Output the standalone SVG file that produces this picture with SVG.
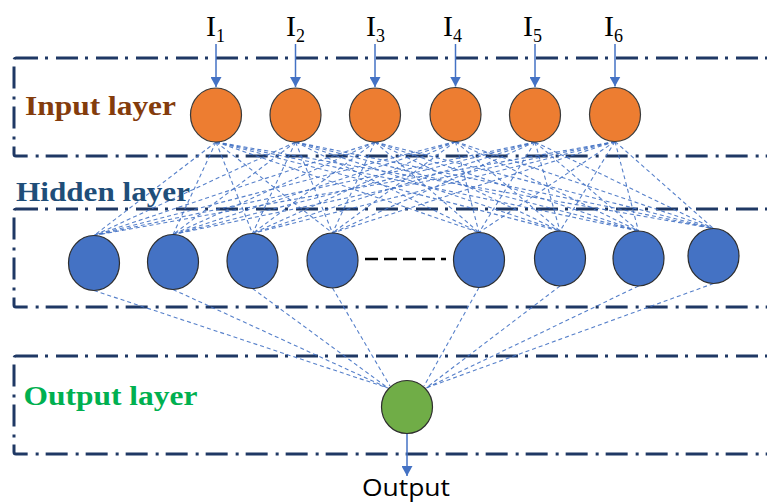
<svg xmlns="http://www.w3.org/2000/svg" width="767" height="502" viewBox="0 0 767 502">
<style>
.box{fill:none;stroke:#1F3864;stroke-width:3;stroke-dasharray:22 7 3 8}
.c{stroke:#4472C4;stroke-width:1.1;stroke-dasharray:4 3;fill:none;opacity:0.9}
.a{stroke:#4472C4;stroke-width:1.5;fill:none}
.in{fill:#ED7D31;stroke:#3A3A3A;stroke-width:1.2}
.hd{fill:#4472C4;stroke:#2E2E2E;stroke-width:1.2}
.out{fill:#70AD47;stroke:#2E2E2E;stroke-width:1.2}
.lbl{font-family:"Liberation Serif","Times New Roman",serif;font-weight:bold;font-size:28px}
.I{font-family:"Liberation Serif","Times New Roman",serif;font-size:30px;fill:#000}
.sub{font-size:18px}
</style>
<defs>
<marker id="ah" markerUnits="userSpaceOnUse" markerWidth="12" markerHeight="11" refX="10" refY="5.5" orient="auto">
<path d="M0,0 L10,5.5 L0,11 Z" fill="#4472C4"/>
</marker>
</defs>
<rect width="767" height="502" fill="#fff"/>
<g id="layer-boxes">
<rect class="box" x="14" y="58" width="780" height="98" rx="2"/>
<rect class="box" x="14" y="209" width="780" height="98" rx="2"/>
<rect class="box" x="14" y="356" width="780" height="98" rx="2"/>
</g>
<g id="connectors">
<line class="c" x1="216" y1="142" x2="94" y2="235.5"/><line class="c" x1="216" y1="142" x2="173" y2="234.5"/><line class="c" x1="216" y1="142" x2="252.5" y2="233.5"/><line class="c" x1="216" y1="142" x2="332.5" y2="233"/><line class="c" x1="216" y1="142" x2="479" y2="232.5"/><line class="c" x1="216" y1="142" x2="560" y2="231"/><line class="c" x1="216" y1="142" x2="638.5" y2="231"/><line class="c" x1="216" y1="142" x2="713.5" y2="228.5"/>
<line class="c" x1="295.5" y1="142" x2="94" y2="235.5"/><line class="c" x1="295.5" y1="142" x2="173" y2="234.5"/><line class="c" x1="295.5" y1="142" x2="252.5" y2="233.5"/><line class="c" x1="295.5" y1="142" x2="332.5" y2="233"/><line class="c" x1="295.5" y1="142" x2="479" y2="232.5"/><line class="c" x1="295.5" y1="142" x2="560" y2="231"/><line class="c" x1="295.5" y1="142" x2="638.5" y2="231"/><line class="c" x1="295.5" y1="142" x2="713.5" y2="228.5"/>
<line class="c" x1="375" y1="142" x2="94" y2="235.5"/><line class="c" x1="375" y1="142" x2="173" y2="234.5"/><line class="c" x1="375" y1="142" x2="252.5" y2="233.5"/><line class="c" x1="375" y1="142" x2="332.5" y2="233"/><line class="c" x1="375" y1="142" x2="479" y2="232.5"/><line class="c" x1="375" y1="142" x2="560" y2="231"/><line class="c" x1="375" y1="142" x2="638.5" y2="231"/><line class="c" x1="375" y1="142" x2="713.5" y2="228.5"/>
<line class="c" x1="455.5" y1="141.5" x2="94" y2="235.5"/><line class="c" x1="455.5" y1="141.5" x2="173" y2="234.5"/><line class="c" x1="455.5" y1="141.5" x2="252.5" y2="233.5"/><line class="c" x1="455.5" y1="141.5" x2="332.5" y2="233"/><line class="c" x1="455.5" y1="141.5" x2="479" y2="232.5"/><line class="c" x1="455.5" y1="141.5" x2="560" y2="231"/><line class="c" x1="455.5" y1="141.5" x2="638.5" y2="231"/><line class="c" x1="455.5" y1="141.5" x2="713.5" y2="228.5"/>
<line class="c" x1="535" y1="142" x2="94" y2="235.5"/><line class="c" x1="535" y1="142" x2="173" y2="234.5"/><line class="c" x1="535" y1="142" x2="252.5" y2="233.5"/><line class="c" x1="535" y1="142" x2="332.5" y2="233"/><line class="c" x1="535" y1="142" x2="479" y2="232.5"/><line class="c" x1="535" y1="142" x2="560" y2="231"/><line class="c" x1="535" y1="142" x2="638.5" y2="231"/><line class="c" x1="535" y1="142" x2="713.5" y2="228.5"/>
<line class="c" x1="615" y1="141.5" x2="94" y2="235.5"/><line class="c" x1="615" y1="141.5" x2="173" y2="234.5"/><line class="c" x1="615" y1="141.5" x2="252.5" y2="233.5"/><line class="c" x1="615" y1="141.5" x2="332.5" y2="233"/><line class="c" x1="615" y1="141.5" x2="479" y2="232.5"/><line class="c" x1="615" y1="141.5" x2="560" y2="231"/><line class="c" x1="615" y1="141.5" x2="638.5" y2="231"/><line class="c" x1="615" y1="141.5" x2="713.5" y2="228.5"/>
<line class="c" x1="94" y1="290.5" x2="388" y2="388"/><line class="c" x1="173" y1="289.5" x2="388" y2="388"/><line class="c" x1="252.5" y1="288.5" x2="388" y2="388"/><line class="c" x1="332.5" y1="288" x2="390" y2="386"/>
<line class="c" x1="479" y1="287.5" x2="424" y2="386"/><line class="c" x1="560" y1="286" x2="426" y2="388"/><line class="c" x1="638.5" y1="286" x2="426" y2="388"/><line class="c" x1="713.5" y1="283.5" x2="426" y2="388"/>
<line class="a" x1="216" y1="44" x2="216" y2="87" marker-end="url(#ah)"/>
<line class="a" x1="295.5" y1="44" x2="295.5" y2="87" marker-end="url(#ah)"/>
<line class="a" x1="375" y1="44" x2="375" y2="87" marker-end="url(#ah)"/>
<line class="a" x1="455.5" y1="44" x2="455.5" y2="86.5" marker-end="url(#ah)"/>
<line class="a" x1="535" y1="44" x2="535" y2="87" marker-end="url(#ah)"/>
<line class="a" x1="615" y1="44" x2="615" y2="86.5" marker-end="url(#ah)"/>
<line class="a" x1="407" y1="433.5" x2="407" y2="476" marker-end="url(#ah)"/>
<line x1="365" y1="259" x2="446" y2="259" stroke="#000" stroke-width="2.5" stroke-dasharray="13 6"/>
</g>
<g id="labels">
<text class="lbl" x="25" y="115" fill="#843C0C" textLength="151" lengthAdjust="spacingAndGlyphs">Input layer</text>
<text class="lbl" x="16" y="201" fill="#1F4E79" font-size="29" textLength="174" lengthAdjust="spacingAndGlyphs">Hidden layer</text>
<text class="lbl" x="23.5" y="405" fill="#00B050" textLength="174" lengthAdjust="spacingAndGlyphs">Output layer</text>
<text x="362" y="495.5" font-family="'Open Sans','Liberation Sans',Arial,sans-serif" font-size="23.5" fill="#000" textLength="88" lengthAdjust="spacingAndGlyphs">Output</text>
</g>
<g id="input-labels">
<text class="I" x="206" y="36">I<tspan class="sub" dy="6">1</tspan></text>
<text class="I" x="286" y="36">I<tspan class="sub" dy="6">2</tspan></text>
<text class="I" x="366" y="36">I<tspan class="sub" dy="6">3</tspan></text>
<text class="I" x="443" y="36">I<tspan class="sub" dy="6">4</tspan></text>
<text class="I" x="523" y="36">I<tspan class="sub" dy="6">5</tspan></text>
<text class="I" x="604" y="36">I<tspan class="sub" dy="6">6</tspan></text>
</g>
<g id="input-nodes">
<g id="in1"><ellipse class="in" cx="216" cy="115" rx="25.5" ry="27"/></g>
<g id="in2"><ellipse class="in" cx="295.5" cy="115" rx="25.5" ry="27"/></g>
<g id="in3"><ellipse class="in" cx="375" cy="115" rx="25.5" ry="27"/></g>
<g id="in4"><ellipse class="in" cx="455.5" cy="114.5" rx="25.5" ry="27"/></g>
<g id="in5"><ellipse class="in" cx="535" cy="115" rx="25.5" ry="27"/></g>
<g id="in6"><ellipse class="in" cx="615" cy="114.5" rx="25.5" ry="27"/></g>
</g>
<g id="hidden-nodes">
<g id="h1"><ellipse class="hd" cx="94" cy="263" rx="25.5" ry="27.5"/></g>
<g id="h2"><ellipse class="hd" cx="173" cy="262" rx="25.5" ry="27.5"/></g>
<g id="h3"><ellipse class="hd" cx="252.5" cy="261" rx="25.5" ry="27.5"/></g>
<g id="h4"><ellipse class="hd" cx="332.5" cy="260.5" rx="25.5" ry="27.5"/></g>
<g id="h5"><ellipse class="hd" cx="479" cy="260" rx="25.5" ry="27.5"/></g>
<g id="h6"><ellipse class="hd" cx="560" cy="258.5" rx="25.5" ry="27.5"/></g>
<g id="h7"><ellipse class="hd" cx="638.5" cy="258.5" rx="25.5" ry="27.5"/></g>
<g id="h8"><ellipse class="hd" cx="713.5" cy="256" rx="25.5" ry="27.5"/></g>
</g>
<g id="output-node">
<ellipse class="out" cx="407" cy="407" rx="25.5" ry="26.5"/>
</g>
</svg>
